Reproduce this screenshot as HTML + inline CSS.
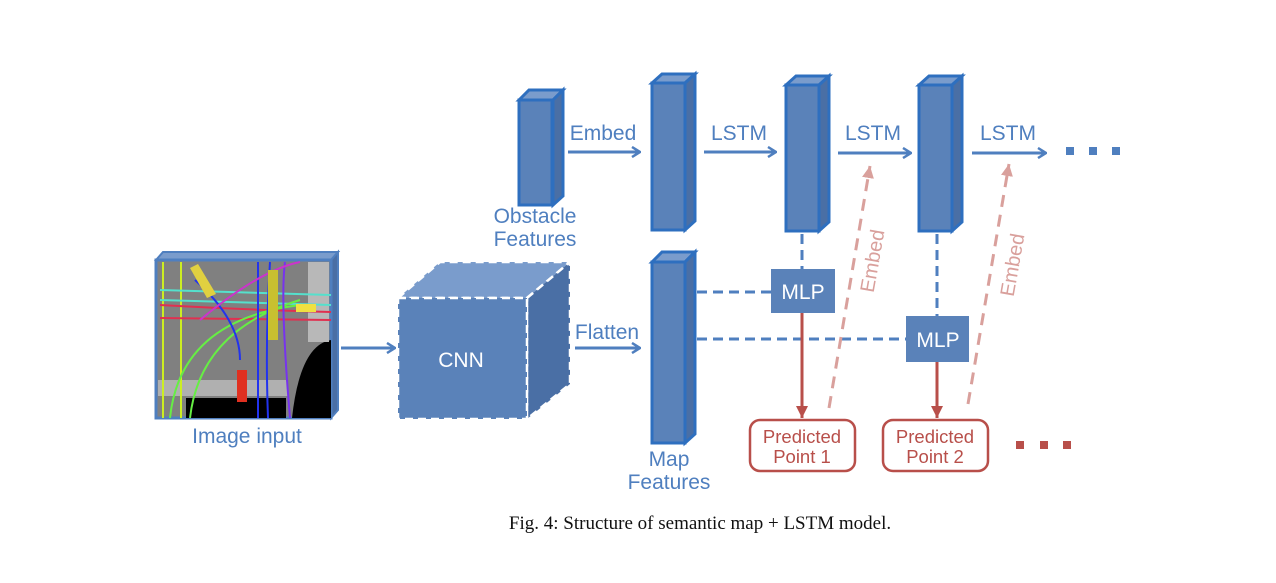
<!DOCTYPE html>
<html><head><style>
html,body{margin:0;padding:0;background:#fff;}
svg{display:block;}
</style></head><body>
<svg width="1276" height="583" viewBox="0 0 1276 583" xmlns="http://www.w3.org/2000/svg" font-family="Liberation Sans, sans-serif">
<defs>
<marker id="ab" markerWidth="10" markerHeight="12" refX="9" refY="6" orient="auto" markerUnits="userSpaceOnUse">
<path d="M1,1 L9,6 L1,11" fill="none" stroke="#4f7fbf" stroke-width="2.5"/></marker>
<marker id="ar" markerWidth="14" markerHeight="12" refX="12" refY="6" orient="auto" markerUnits="userSpaceOnUse">
<path d="M0,0 L12,6 L0,12 Z" fill="#b84f4a"/></marker>
<marker id="ap" markerWidth="14" markerHeight="12" refX="12" refY="6" orient="auto" markerUnits="userSpaceOnUse">
<path d="M0,0 L12,6 L0,12 Z" fill="#d9a09c"/></marker>
</defs>

<!-- image input -->
<polygon points="156,260 163,252 338,252 331,260" fill="#7a9ccc" stroke="#4f7fbf" stroke-width="2"/>
<polygon points="331,260 338,252 338,410 331,418" fill="#4a6fa5" stroke="#4f7fbf" stroke-width="2"/>
<rect x="156" y="260" width="175" height="158" fill="#808080" stroke="#4f7fbf" stroke-width="3"/>
<path d="M292,418 Q300,345 331,340 L331,418 Z" fill="#000"/>
<rect x="186" y="398" width="100" height="20" fill="#000"/>
<rect x="158" y="380" width="130" height="16" fill="#b0b0b0"/>
<rect x="308" y="262" width="21" height="80" fill="#b8b8b8"/>
<g fill="none" stroke-width="2">
<path d="M163,262 L163,418 M181,262 L181,418" stroke="#ccee22"/>
<path d="M160,300 L331,305 M160,290 L331,295" stroke="#55e0cc"/>
<path d="M160,318 L331,320 M160,305 Q250,310 331,312" stroke="#e03050"/>
<path d="M170,418 Q180,320 300,305 M190,418 Q200,330 300,300" stroke="#66ee44"/>
<path d="M258,262 L258,418 M270,262 Q265,340 268,418" stroke="#2233ee"/>
<path d="M195,280 Q240,320 240,360" stroke="#2233ee"/>
<path d="M285,262 Q280,300 290,418" stroke="#7733ee"/>
<path d="M200,320 Q260,270 300,262" stroke="#cc33cc"/>
</g>
<rect x="268" y="270" width="10" height="70" fill="#c8c030"/>
<polygon points="190,268 198,264 216,294 207,298" fill="#e0d040"/>
<rect x="296" y="304" width="20" height="8" fill="#f0e040"/>
<rect x="237" y="370" width="10" height="32" fill="#e03020"/>
<text x="247" y="443" font-size="21" fill="#4f7fbf" text-anchor="middle">Image input</text>

<line x1="341" y1="348" x2="395" y2="348" stroke="#4f7fbf" stroke-width="3" marker-end="url(#ab)"/>

<!-- CNN -->
<polygon points="398,298 440,262 570,262 527,298" fill="#7a9ccc" stroke="#fff" stroke-width="2.5" stroke-dasharray="8,5"/>
<polygon points="527,298 570,262 570,384 527,419" fill="#4a6fa5" stroke="#fff" stroke-width="2.5" stroke-dasharray="8,5"/>
<rect x="398" y="298" width="129" height="121" fill="#5a82b9" stroke="#fff" stroke-width="2.5" stroke-dasharray="8,5"/>
<text x="461" y="367" font-size="21" fill="#fff" text-anchor="middle">CNN</text>

<line x1="575" y1="348" x2="640" y2="348" stroke="#4f7fbf" stroke-width="3" marker-end="url(#ab)"/>
<text x="607" y="339" font-size="21" fill="#4f7fbf" text-anchor="middle">Flatten</text>

<!-- bars -->
<g stroke="#2e6fbf" stroke-width="3">
<polygon points="519,100 529,90 563,90 553,100" fill="#7a9ccc"/>
<polygon points="553,100 563,90 563,196 553,205" fill="#4a6fa5"/>
<rect x="519" y="100" width="33" height="105" fill="#5a82b9"/>

<polygon points="652,83 662,74 695,74 685,83" fill="#7a9ccc"/>
<polygon points="685,83 695,74 695,221 685,230" fill="#4a6fa5"/>
<rect x="652" y="83" width="33" height="147" fill="#5a82b9"/>

<polygon points="652,262 662,252 695,252 685,262" fill="#7a9ccc"/>
<polygon points="685,262 695,252 695,434 685,443" fill="#4a6fa5"/>
<rect x="652" y="262" width="33" height="181" fill="#5a82b9"/>

<polygon points="786,85 796,76 829,76 819,85" fill="#7a9ccc"/>
<polygon points="819,85 829,76 829,222 819,231" fill="#4a6fa5"/>
<rect x="786" y="85" width="33" height="146" fill="#5a82b9"/>

<polygon points="919,85 929,76 962,76 952,85" fill="#7a9ccc"/>
<polygon points="952,85 962,76 962,222 952,231" fill="#4a6fa5"/>
<rect x="919" y="85" width="33" height="146" fill="#5a82b9"/>
</g>

<text x="535" y="223" font-size="21" fill="#4f7fbf" text-anchor="middle">Obstacle</text>
<text x="535" y="246" font-size="21" fill="#4f7fbf" text-anchor="middle">Features</text>
<text x="669" y="466" font-size="21" fill="#4f7fbf" text-anchor="middle">Map</text>
<text x="669" y="489" font-size="21" fill="#4f7fbf" text-anchor="middle">Features</text>

<!-- top arrows -->
<g stroke="#4f7fbf" stroke-width="3">
<line x1="568" y1="152" x2="640" y2="152" marker-end="url(#ab)"/>
<line x1="704" y1="152" x2="776" y2="152" marker-end="url(#ab)"/>
<line x1="838" y1="153" x2="911" y2="153" marker-end="url(#ab)"/>
<line x1="972" y1="153" x2="1046" y2="153" marker-end="url(#ab)"/>
</g>
<g font-size="21" fill="#4f7fbf" text-anchor="middle">
<text x="603" y="140">Embed</text>
<text x="739" y="140">LSTM</text>
<text x="873" y="140">LSTM</text>
<text x="1008" y="140">LSTM</text>
</g>
<g fill="#4f7fbf"><rect x="1066" y="147" width="8" height="8"/><rect x="1089" y="147" width="8" height="8"/><rect x="1112" y="147" width="8" height="8"/></g>

<!-- dashed connectors -->
<g stroke="#4f7fbf" stroke-width="3" stroke-dasharray="10,6" fill="none">
<line x1="697" y1="292" x2="771" y2="292"/>
<line x1="697" y1="339" x2="906" y2="339"/>
<line x1="802" y1="234" x2="802" y2="269"/>
<line x1="937" y1="234" x2="937" y2="316"/>
</g>

<!-- MLPs -->
<rect x="771" y="269" width="64" height="44" fill="#5a82b9"/>
<text x="803" y="299" font-size="21" fill="#fff" text-anchor="middle">MLP</text>
<rect x="906" y="316" width="63" height="46" fill="#5a82b9"/>
<text x="938" y="347" font-size="21" fill="#fff" text-anchor="middle">MLP</text>

<!-- red arrows -->
<line x1="802" y1="313" x2="802" y2="418" stroke="#b84f4a" stroke-width="3" marker-end="url(#ar)"/>
<line x1="937" y1="362" x2="937" y2="418" stroke="#b84f4a" stroke-width="3" marker-end="url(#ar)"/>
<g stroke="#d9a09c" stroke-width="3" stroke-dasharray="12,8">
<line x1="829" y1="408" x2="870" y2="166" marker-end="url(#ap)"/>
<line x1="968" y1="404" x2="1009" y2="164" marker-end="url(#ap)"/>
</g>
<text transform="translate(879,262) rotate(-80)" font-size="20" fill="#d9a09c" text-anchor="middle">Embed</text>
<text transform="translate(1019,266) rotate(-80)" font-size="20" fill="#d9a09c" text-anchor="middle">Embed</text>

<!-- predicted -->
<rect x="750" y="420" width="105" height="51" rx="10" fill="#fff" stroke="#b84f4a" stroke-width="2.5"/>
<text x="802" y="443" font-size="18.5" fill="#b84f4a" text-anchor="middle">Predicted</text>
<text x="802" y="463" font-size="18.5" fill="#b84f4a" text-anchor="middle">Point 1</text>
<rect x="883" y="420" width="105" height="51" rx="10" fill="#fff" stroke="#b84f4a" stroke-width="2.5"/>
<text x="935" y="443" font-size="18.5" fill="#b84f4a" text-anchor="middle">Predicted</text>
<text x="935" y="463" font-size="18.5" fill="#b84f4a" text-anchor="middle">Point 2</text>
<g fill="#b84f4a"><rect x="1016" y="441" width="8" height="8"/><rect x="1040" y="441" width="8" height="8"/><rect x="1063" y="441" width="8" height="8"/></g>

<text x="700" y="529" font-size="19" font-family="Liberation Serif, serif" fill="#111" text-anchor="middle">Fig. 4: Structure of semantic map + LSTM model.</text>
</svg>
</body></html>
